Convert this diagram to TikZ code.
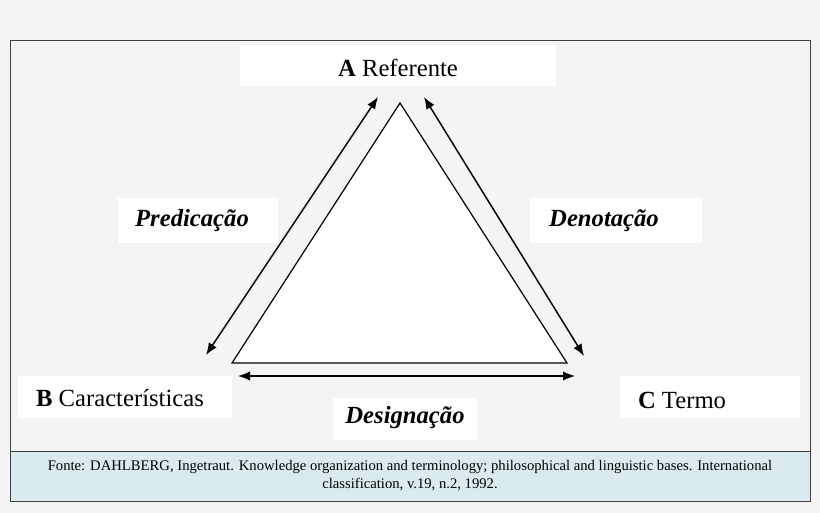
\documentclass[tikz,border=0pt]{standalone}
\usepackage{fontspec}
\setmainfont{Liberation Serif}
\usetikzlibrary{arrows.meta}
\definecolor{bgc}{HTML}{F4F4F4}
\definecolor{capc}{HTML}{DAEBF0}
\tikzset{wbox/.style={fill=white,draw=none},
 lab/.style={font=\fontsize{18.5}{22}\selectfont},
 ilab/.style={font=\fontsize{18.5}{22}\selectfont\bfseries\itshape},
 dbl/.style={{Latex[length=9pt,width=7pt]}-{Latex[length=9pt,width=7pt]},line width=1.1pt}}
\begin{document}
\begin{tikzpicture}[x=0.75pt,y=-0.75pt]
\fill[bgc] (0,0) rectangle (820,513);
\useasboundingbox (0,0) rectangle (820,513);
\fill[capc] (10,451) rectangle (810,501);
\draw[line width=0.6pt,black!75] (10,40) rectangle (810,501);
\draw[line width=0.6pt,black!75] (10,451) -- (810,451);
\fill[wbox] (240,45) rectangle (556,86);
\node[lab] (A) at (398,68) {\textbf{A} Referente};
\fill[wbox] (118,198) rectangle (278,243);
\node[ilab] (P) at (192,221) {Predicação};
\fill[wbox] (530,198) rectangle (702,243);
\node[ilab] (D) at (604,221) {Denotação};
\fill[wbox] (18,376) rectangle (232,418);
\node[lab] (B) at (120,398) {\textbf{B} Características};
\fill[wbox] (620,376) rectangle (800,418);
\node[lab] (C) at (682,400) {\textbf{C} Termo};
\fill[wbox] (333,398) rectangle (477,440);
\node[ilab] (G) at (405,418) {Designação};
\coordinate (t1) at (400,103);
\coordinate (t2) at (232,363);
\coordinate (t3) at (567,363);
\draw[fill=white,line width=0.9pt] (t1) -- (t2) -- (t3) -- cycle;
\coordinate (l1) at (378,97); \coordinate (l2) at (206,355);
\coordinate (r1) at (424,97); \coordinate (r2) at (584,356);
\coordinate (b1) at (238,376); \coordinate (b2) at (575,376);
\draw[dbl] (l1) -- (l2);
\draw[dbl] (r1) -- (r2);
\draw[dbl] (b1) -- (b2);
\node[font=\fontsize{11}{13.5}\selectfont,align=center] (F) at (410,476) {Fonte: DAHLBERG, Ingetraut. Knowledge organization and terminology; philosophical and linguistic bases. International\\classification, v.19, n.2, 1992.};
\end{tikzpicture}
\end{document}
